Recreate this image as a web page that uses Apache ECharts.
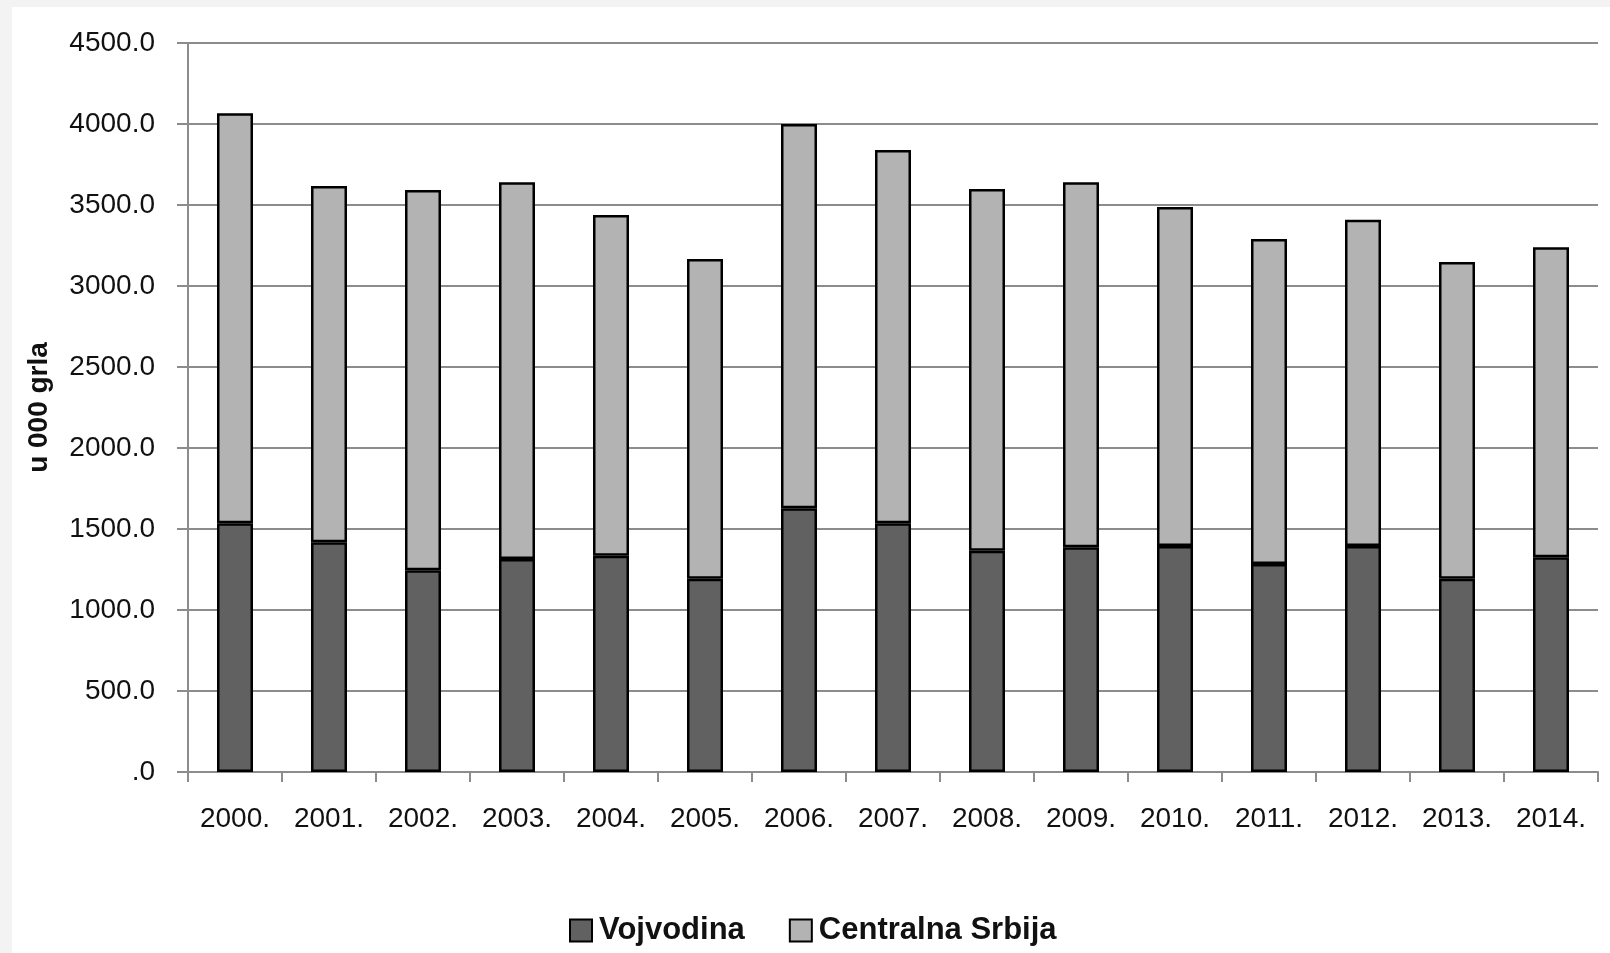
<!DOCTYPE html>
<html>
<head>
<meta charset="utf-8">
<script src="https://cdn.jsdelivr.net/npm/echarts@6/dist/echarts.min.js"></script>
<style>
html,body{margin:0;padding:0;background:#f3f3f3;}
#panel{position:absolute;left:12px;top:7px;width:1598px;height:946px;background:#fff;}
#chart{position:absolute;left:-12px;top:-7px;width:1610px;height:953px;}
</style>
</head>
<body>
<div id="panel"><div id="chart"></div></div>
<script>
const years = ['2000.','2001.','2002.','2003.','2004.','2005.','2006.','2007.','2008.','2009.','2010.','2011.','2012.','2013.','2014.'];
const vojvodina = [1535,1418,1245,1315,1335,1193,1628,1535,1366,1387,1395,1284,1395,1193,1325];
const centralnaSrbija = [2531,2199,2348,2325,2103,1974,2372,2305,2233,2253,2093,2006,2014,1955,1914];
const yTicks = [0,500,1000,1500,2000,2500,3000,3500,4000,4500];

const font = '"Liberation Sans", Arial, sans-serif';
const chart = echarts.init(document.getElementById('chart'));
chart.setOption({
  animation:false,
  backgroundColor:'transparent',
  textStyle:{fontFamily:font,color:'#111'},
  grid:{left:188,right:12,top:43,bottom:181,containLabel:false},
  legend:{
    left:564, top:910,
    itemWidth:22,itemHeight:22,itemGap:44,
    icon:'rect',
    textStyle:{fontFamily:font,fontSize:31,fontWeight:'bold',color:'#111',padding:[0,0,0,2]},
    data:['Vojvodina','Centralna Srbija']
  },
  xAxis:{
    type:'category',
    data:years,
    axisLine:{lineStyle:{color:'#8c8c8c',width:2}},
    axisTick:{show:true,length:10,lineStyle:{color:'#8c8c8c',width:2}},
    axisLabel:{fontSize:28,color:'#111',margin:33,fontFamily:font}
  },
  yAxis:{
    type:'value',
    min:yTicks[0],max:yTicks[yTicks.length-1],interval:yTicks[1]-yTicks[0],
    name:'u 000 grla',
    nameLocation:'middle',
    nameGap:135,
    nameTextStyle:{fontSize:28,fontWeight:'bold',color:'#111',fontFamily:font},
    axisLine:{show:true,lineStyle:{color:'#8c8c8c',width:2}},
    axisTick:{show:true,length:11,lineStyle:{color:'#8c8c8c',width:2}},
    splitLine:{show:true,lineStyle:{color:'#8c8c8c',width:2}},
    axisLabel:{fontSize:28,color:'#111',margin:33,fontFamily:font,
      formatter:function(v){ return v===0 ? '.0' : v.toFixed(1); }}
  },
  series:[
    {name:'Vojvodina',type:'bar',stack:'t',data:vojvodina,barWidth:36,
     itemStyle:{color:'#616161',borderColor:'#000',borderWidth:2.5}},
    {name:'Centralna Srbija',type:'bar',stack:'t',data:centralnaSrbija,barWidth:36,
     itemStyle:{color:'#b3b3b3',borderColor:'#000',borderWidth:2.5}}
  ]
});
</script>
</body>
</html>
